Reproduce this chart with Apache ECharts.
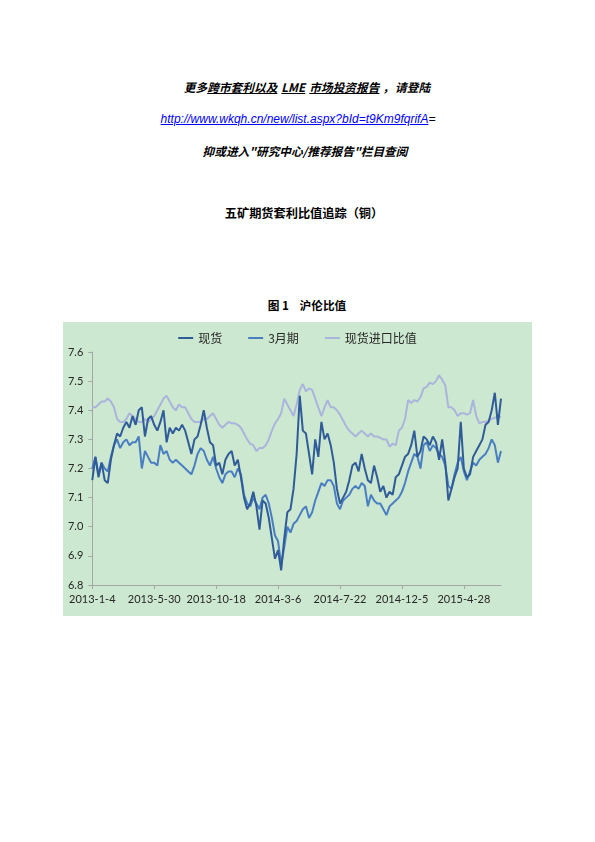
<!DOCTYPE html>
<html>
<head>
<meta charset="utf-8">
<script src="https://cdn.jsdelivr.net/npm/echarts@6/dist/echarts.min.js"></script>
<style>
  html, body { margin: 0; padding: 0; background: #ffffff; width: 595px; height: 842px; overflow: hidden; }
  .t { position: absolute; width: 400px; text-align: center; line-height: 16px; font-size: 11.7px; color: #000;
       font-family: "Noto Sans CJK SC", "Liberation Sans", sans-serif; white-space: nowrap; }
  .bi { font-weight: bold; font-style: italic; }
  .b { font-weight: bold; }
  #chart { position: absolute; left: 63px; top: 322px; width: 469px; height: 294px; }
</style>
</head>
<body>
<div class="t bi" style="left:107px; top:79px;">更多<u>跨市套利以及<span style="margin:0 4px 0 4px;">LME</span>市场投资报告</u><span style="margin:0 1px 0 3px;">，</span>请登陆</div>
<div class="t" style="left:98px; top:111px; font-style:italic; font-family:'Liberation Sans', sans-serif; font-size:12px;"><a style="color:#0000ff; text-decoration:underline;">http://www.wkqh.cn/new/list.aspx?bId=t9Km9fqrifA</a>=</div>
<div class="t bi" style="left:105px; top:143px;">抑或进入"研究中心/推荐报告"栏目查阅</div>
<div class="t b" style="left:104px; top:205px; font-size:12.2px;">五矿期货套利比值追踪（铜）</div>
<div class="t b" style="left:107px; top:297px; font-size:11.7px;">图 1&nbsp;&nbsp;&nbsp;&nbsp;沪伦比值</div>
<div id="chart"></div>
<script>
// tick labels on the category axis (one every 20 points)
const tickLabels = ['2013-1-4', '2013-5-30', '2013-10-18', '2014-3-6', '2014-7-22', '2014-12-5', '2015-4-28'];
const seriesNames = ['现货', '3月期', '现货进口比值'];

// 现货
const spot = [
  7.16, 7.24, 7.17, 7.22, 7.16, 7.15, 7.23, 7.28, 7.32, 7.31,
  7.34, 7.36, 7.34, 7.38, 7.35, 7.40, 7.41, 7.31, 7.37, 7.38,
  7.35, 7.33, 7.36, 7.40, 7.29, 7.34, 7.32, 7.34, 7.33, 7.35,
  7.33, 7.29, 7.25, 7.30, 7.31, 7.35, 7.40, 7.34, 7.29, 7.28,
  7.21, 7.22, 7.18, 7.23, 7.25, 7.26, 7.21, 7.23, 7.17, 7.10,
  7.06, 7.08, 7.12, 7.07, 6.99, 7.09, 7.08, 7.03, 6.96, 6.89,
  6.92, 6.85, 6.96, 7.05, 7.06, 7.13, 7.25, 7.45, 7.33, 7.32,
  7.25, 7.18, 7.30, 7.24, 7.36, 7.30, 7.32, 7.28, 7.22, 7.13,
  7.08, 7.10, 7.12, 7.16, 7.21, 7.22, 7.19, 7.25, 7.20, 7.16,
  7.15, 7.21, 7.17, 7.12, 7.14, 7.10, 7.12, 7.11, 7.17, 7.18,
  7.21, 7.24, 7.25, 7.28, 7.33, 7.24, 7.26, 7.31, 7.30, 7.28,
  7.31, 7.29, 7.23, 7.30, 7.22, 7.09, 7.13, 7.17, 7.20, 7.36,
  7.20, 7.17, 7.18, 7.24, 7.26, 7.28, 7.30, 7.35, 7.36, 7.40,
  7.46, 7.35, 7.44
];

// 3月期
const threeMonth = [
  7.20, 7.24, 7.18, 7.22, 7.20, 7.19, 7.24, 7.28, 7.30, 7.27,
  7.29, 7.30, 7.28, 7.29, 7.29, 7.31, 7.20, 7.26, 7.24, 7.22,
  7.22, 7.21, 7.28, 7.25, 7.26, 7.23, 7.22, 7.23, 7.22, 7.21,
  7.20, 7.19, 7.18, 7.21, 7.25, 7.27, 7.26, 7.23, 7.21, 7.24,
  7.20, 7.17, 7.15, 7.18, 7.19, 7.19, 7.17, 7.20, 7.18, 7.11,
  7.08, 7.07, 7.10, 7.08, 7.06, 7.10, 7.11, 7.08, 7.03, 6.97,
  6.95, 6.87, 6.93, 7.00, 6.98, 7.01, 7.02, 7.04, 7.06, 7.07,
  7.03, 7.05, 7.09, 7.12, 7.15, 7.14, 7.16, 7.16, 7.14, 7.08,
  7.06, 7.09, 7.10, 7.11, 7.13, 7.14, 7.13, 7.15, 7.14, 7.07,
  7.11, 7.09, 7.08, 7.08, 7.06, 7.04, 7.07, 7.08, 7.09, 7.10,
  7.12, 7.15, 7.19, 7.22, 7.25, 7.24, 7.20, 7.28, 7.29, 7.26,
  7.28, 7.27, 7.25, 7.24, 7.21, 7.14, 7.13, 7.18, 7.22, 7.24,
  7.19, 7.16, 7.19, 7.22, 7.21, 7.23, 7.24, 7.25, 7.27, 7.30,
  7.28, 7.22, 7.26
];

// 现货进口比值
const importRatio = [
  7.41, 7.41, 7.42, 7.43, 7.43, 7.44, 7.43, 7.41, 7.37, 7.36,
  7.36, 7.37, 7.39, 7.38, 7.37, 7.36, 7.36, 7.37, 7.36, 7.37,
  7.38, 7.40, 7.42, 7.44, 7.45, 7.43, 7.41, 7.40, 7.42, 7.41,
  7.41, 7.39, 7.37, 7.36, 7.36, 7.36, 7.37, 7.37, 7.38, 7.39,
  7.37, 7.35, 7.34, 7.35, 7.36, 7.355, 7.355, 7.35, 7.34, 7.32,
  7.30, 7.285, 7.28, 7.26, 7.27, 7.27, 7.28, 7.30, 7.33, 7.355,
  7.37, 7.39, 7.44, 7.42, 7.40, 7.38, 7.42, 7.47, 7.49, 7.465,
  7.475, 7.47, 7.44, 7.41, 7.38, 7.41, 7.435, 7.41, 7.41, 7.40,
  7.385, 7.365, 7.345, 7.33, 7.32, 7.31, 7.32, 7.33, 7.32, 7.31,
  7.32, 7.31, 7.31, 7.305, 7.30, 7.30, 7.275, 7.285, 7.28, 7.33,
  7.34, 7.37, 7.435, 7.425, 7.435, 7.43, 7.445, 7.475, 7.48, 7.495,
  7.49, 7.50, 7.52, 7.505, 7.485, 7.41, 7.41, 7.40, 7.38, 7.39,
  7.39, 7.385, 7.39, 7.435, 7.38, 7.355, 7.36, 7.36, 7.365, 7.37,
  7.375, 7.375, 7.378
];

const categories = spot.map((_, i) => (i % 20 === 0 ? tickLabels[i / 20] : 'p' + i));

const chart = echarts.init(document.getElementById('chart'), null, { renderer: 'canvas' });
const axisFont = { fontFamily: 'Lato, "Open Sans", sans-serif', fontSize: 11, color: '#262626' };
chart.setOption({
  animation: false,
  backgroundColor: '#cde8d0',
  legend: {
    top: 5,
    left: 'center',
    data: seriesNames,
    icon: 'rect',
    itemWidth: 15,
    itemHeight: 2,
    itemGap: 26,
    textStyle: { fontFamily: '"Noto Sans CJK SC", sans-serif', fontSize: 12, color: '#262626' }
  },
  grid: { left: 29.3, right: 31, top: 30, bottom: 31, containLabel: false },
  xAxis: {
    type: 'category',
    data: categories,
    boundaryGap: false,
    axisLine: { show: true, lineStyle: { color: '#a6a6a6', width: 1 } },
    axisTick: { show: true, interval: 19, length: 4, lineStyle: { color: '#a6a6a6' } },
    axisLabel: Object.assign({ interval: 19, margin: 9 }, axisFont),
    splitLine: { show: false }
  },
  yAxis: {
    type: 'value',
    min: 6.8,
    max: 7.6,
    interval: 0.1,
    axisLine: { show: true, lineStyle: { color: '#a6a6a6', width: 1 } },
    axisTick: { show: true, length: 4, lineStyle: { color: '#a6a6a6' } },
    axisLabel: Object.assign({ margin: 9, formatter: v => v.toFixed(1) }, axisFont),
    splitLine: { show: false }
  },
  series: [
    { name: seriesNames[2], type: 'line', data: importRatio, showSymbol: false, z: 1,
      itemStyle: { color: '#aab4dc' }, lineStyle: { color: '#aab4dc', width: 2 } },
    { name: seriesNames[1], type: 'line', data: threeMonth, showSymbol: false, z: 2,
      itemStyle: { color: '#4a7ec2' }, lineStyle: { color: '#4a7ec2', width: 2 } },
    { name: seriesNames[0], type: 'line', data: spot, showSymbol: false, z: 3,
      itemStyle: { color: '#2f5c98' }, lineStyle: { color: '#2f5c98', width: 2 } }
  ]
});
</script>
</body>
</html>
